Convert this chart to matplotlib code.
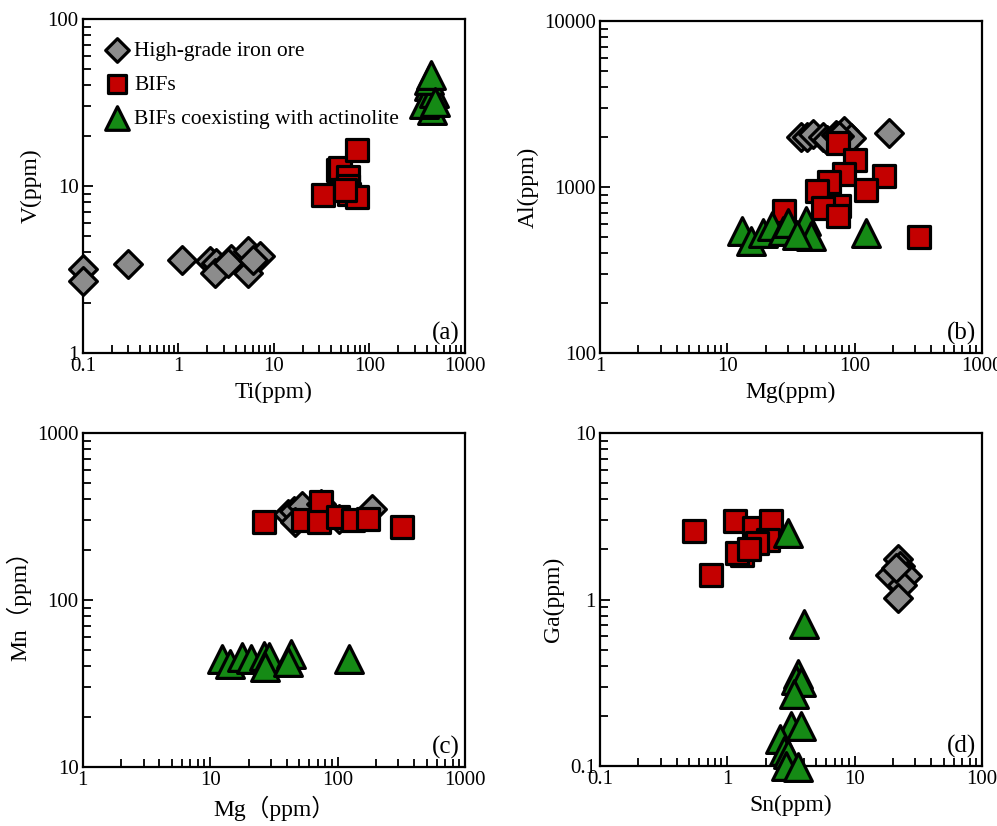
import numpy as np
import matplotlib.pyplot as plt
from matplotlib.ticker import LogLocator, FuncFormatter, NullFormatter

plt.rcParams['font.family'] = ['Liberation Serif', 'Noto Sans CJK SC']

# colours of the three groups
GRAY = '#8c8c8c'
RED = '#c40000'
GREEN = '#158a15'

# ---- panel (a): Ti vs V
a_ore_ti = [0.1, 0.1, 0.295, 1.08, 2.14, 2.5, 2.42, 3.6, 3.3, 5.4, 5.4, 7.1, 6.1]
a_ore_v = [3.18, 2.71, 3.41, 3.62, 3.54, 3.45, 3.01, 3.65, 3.45, 4.06, 3.01, 3.79, 3.6]
a_bif_ti = [32.3, 46.4, 49, 59, 60, 61, 75, 75, 55]
a_bif_v = [8.8, 12.5, 12.8, 11.4, 10.0, 8.9, 8.6, 16.5, 9.5]
a_act_ti = [417, 430, 450, 370, 470, 420, 440, 480]
a_act_v = [39.5, 34.4, 28.6, 31.0, 36.0, 43.0, 46.0, 32.0]

# ---- panel (b): Mg vs Al
b_ore_mg = [37.9, 42.5, 46.8, 56, 61, 71, 83, 94, 187, 76]
b_ore_al = [2000, 2000, 2100, 2000, 1930, 2070, 2160, 1970, 2110, 2020]
b_bif_mg = [73.9, 100, 83, 171, 63, 51, 123, 76, 56, 74, 28, 321]
b_bif_al = [1840, 1460, 1190, 1160, 1070, 940, 965, 765, 750, 670, 713, 500]
b_act_mg = [13.1, 15.3, 18.9, 22.6, 27.2, 29.8, 41.5, 45.5, 35, 123]
b_act_al = [540, 470, 530, 580, 540, 610, 620, 505, 515, 530]

# ---- panel (c): Mg vs Mn
c_ore_mg = [40.6, 45.8, 53, 74, 83, 187, 46, 103]
c_ore_mn = [327, 342, 367, 375, 342, 351, 292, 306]
c_bif_mg = [26.5, 54, 74, 72, 100, 131, 172, 319]
c_bif_mn = [292, 300, 384, 292, 313, 300, 306, 272]
c_act_mg = [12.4, 14.4, 17.8, 20.8, 26.5, 29, 27, 43, 40.6, 123]
c_act_mn = [44.3, 41.4, 45.4, 44.3, 46.4, 45.4, 39.5, 47.5, 42.4, 44.3]

# ---- panel (d): Sn vs Ga
d_ore_sn = [22, 22.6, 19, 25.9, 23.7, 22, 21]
d_ore_ga = [1.74, 1.58, 1.41, 1.38, 1.23, 1.02, 1.55]
d_bif_sn = [0.545, 1.14, 1.62, 2.2, 2.1, 1.7, 1.31, 1.19, 1.48, 0.75]
d_bif_ga = [2.57, 2.95, 2.69, 2.95, 2.29, 2.19, 1.86, 1.9, 2.0, 1.41]
d_act_sn = [2.98, 4.03, 3.57, 3.46, 3.8, 3.36, 3.16, 3.8, 2.6, 2.8, 2.98, 2.9, 3.6]
d_act_ga = [2.51, 0.71, 0.355, 0.33, 0.32, 0.27, 0.174, 0.174, 0.145, 0.123, 0.118, 0.1, 0.098]

labels = ['High-grade iron ore', 'BIFs', 'BIFs coexisting with actinolite']

fig = plt.figure(figsize=(9.97, 8.26), dpi=100)
ax_a = fig.add_axes([0.083, 0.5726, 0.3834, 0.4044])
ax_b = fig.add_axes([0.6018, 0.5726, 0.3831, 0.402])
ax_c = fig.add_axes([0.083, 0.0714, 0.3834, 0.4044])
ax_d = fig.add_axes([0.6018, 0.0726, 0.3831, 0.4032])


def fmt(v, pos):
    if v >= 1:
        return '%d' % round(v)
    return ('%g' % v)


def style(ax, xlim, ylim, xlabel, ylabel, tag):
    ax.set_xscale('log')
    ax.set_yscale('log')
    ax.set_xlim(*xlim)
    ax.set_ylim(*ylim)
    for ax_ in (ax.xaxis, ax.yaxis):
        ax_.set_major_locator(LogLocator(base=10))
        ax_.set_minor_locator(LogLocator(base=10, subs=np.arange(2, 10)))
        ax_.set_major_formatter(FuncFormatter(fmt))
        ax_.set_minor_formatter(NullFormatter())
    ax.tick_params(which='both', direction='in', top=False, right=False,
                   labelsize=15, width=1.3, pad=3)
    ax.tick_params(which='major', length=7)
    ax.tick_params(which='minor', length=6)
    for s in ax.spines.values():
        s.set_linewidth(1.6)
    ax.set_xlabel(xlabel, fontsize=17, labelpad=4)
    ax.set_ylabel(ylabel, fontsize=17, labelpad=4)
    ax.text(0.985, 0.025, tag, transform=ax.transAxes, ha='right', va='bottom',
            fontsize=18)


def plot_groups(ax, ore, bif, act):
    kw = dict(edgecolors='black', linewidths=2.3, clip_on=False)
    h1 = ax.scatter(ore[0], ore[1], marker='D', s=200, c=GRAY, zorder=3, **kw)
    h2 = ax.scatter(bif[0], bif[1], marker='s', s=240, c=RED, zorder=4, **kw)
    h3 = ax.scatter(act[0], act[1], marker='^', s=400, c=GREEN, zorder=5, **kw)
    return [h1, h2, h3]


handles = plot_groups(ax_a, (a_ore_ti, a_ore_v), (a_bif_ti, a_bif_v), (a_act_ti, a_act_v))
plot_groups(ax_b, (b_ore_mg, b_ore_al), (b_bif_mg, b_bif_al), (b_act_mg, b_act_al))
plot_groups(ax_c, (c_ore_mg, c_ore_mn), (c_bif_mg, c_bif_mn), (c_act_mg, c_act_mn))
plot_groups(ax_d, (d_ore_sn, d_ore_ga), (d_bif_sn, d_bif_ga), (d_act_sn, d_act_ga))

style(ax_a, (0.1, 1000), (1, 100), 'Ti(ppm)', 'V(ppm)', '(a)')
style(ax_b, (1, 1000), (100, 10000), 'Mg(ppm)', 'Al(ppm)', '(b)')
style(ax_c, (1, 1000), (10, 1000), 'Mg（ppm）', 'Mn（ppm）', '(c)')
style(ax_d, (0.1, 100), (0.1, 10), 'Sn(ppm)', 'Ga(ppm)', '(d)')

ax_a.legend(handles, labels, loc='upper left', frameon=False, fontsize=15.5,
            markerscale=0.85, handletextpad=0.2, labelspacing=0.65,
            borderaxespad=0.5, handlelength=1.2, borderpad=0.5)

fig.savefig('out.png', dpi=100)
